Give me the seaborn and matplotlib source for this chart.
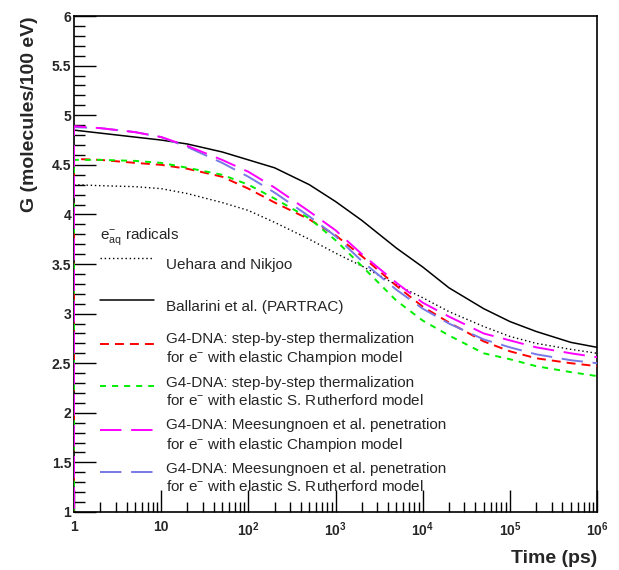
import numpy as np
import pandas as pd
import seaborn as sns
import matplotlib.pyplot as plt
from matplotlib.ticker import FixedLocator, FuncFormatter

# time grid (ps) and G values
time_ps = [1, 2, 5, 10, 20, 50, 100, 200, 500, 1e3, 2e3, 5e3,
           1e4, 2e4, 5e4, 1e5, 2e5, 5e5, 1e6]

g_uehara = [4.30, 4.29, 4.28, 4.26, 4.21, 4.12, 4.04, 3.92, 3.75, 3.61,
            3.48, 3.29, 3.16, 3.02, 2.87, 2.77, 2.70, 2.64, 2.60]
g_ballarini = [4.85, 4.82, 4.78, 4.75, 4.71, 4.63, 4.55, 4.47, 4.30, 4.13,
               3.94, 3.66, 3.47, 3.26, 3.05, 2.92, 2.82, 2.71, 2.66]
g_step_champion = [4.56, 4.55, 4.52, 4.50, 4.46, 4.38, 4.26, 4.12, 3.95, 3.79,
                   3.58, 3.28, 3.07, 2.91, 2.72, 2.62, 2.55, 2.50, 2.47]
g_step_rutherford = [4.55, 4.55, 4.54, 4.52, 4.47, 4.40, 4.30, 4.16, 3.96, 3.74,
                     3.48, 3.13, 2.93, 2.78, 2.60, 2.54, 2.47, 2.41, 2.37]
g_mees_champion = [4.89, 4.87, 4.83, 4.78, 4.69, 4.55, 4.43, 4.27, 4.03, 3.84,
                   3.60, 3.31, 3.11, 2.97, 2.80, 2.73, 2.66, 2.60, 2.56]
g_mees_rutherford = [4.88, 4.87, 4.83, 4.78, 4.68, 4.52, 4.38, 4.22, 3.98, 3.78,
                     3.53, 3.24, 3.05, 2.90, 2.74, 2.66, 2.59, 2.53, 2.50]

# G4-DNA curves start from zero at t = 1 ps
g4_start = 0.0

labels = [
    "Uehara and Nikjoo",
    "Ballarini et al. (PARTRAC)",
    "G4-DNA: step-by-step thermalization\nfor e$^{-}$ with elastic Champion model",
    "G4-DNA: step-by-step thermalization\nfor e$^{-}$ with elastic S. Rutherford model",
    "G4-DNA: Meesungnoen et al. penetration\nfor e$^{-}$ with elastic Champion model",
    "G4-DNA: Meesungnoen et al. penetration\nfor e$^{-}$ with elastic S. Rutherford model",
]

sns.set_style("white")
plt.rcParams["font.family"] = ["Liberation Sans", "DejaVu Sans"]
plt.rcParams["mathtext.fontset"] = "custom"
plt.rcParams["mathtext.rm"] = "Liberation Sans"
plt.rcParams["mathtext.default"] = "regular"

fig = plt.figure(figsize=(6.19, 5.70), dpi=100)
ax = fig.add_axes([0.1196, 0.1018, 0.845, 0.870])

# (values, colour, line style, width, starts from zero, zorder)
series = [
    (g_uehara, "black", (0, (1, 2)), 1.0, False, 2),
    (g_ballarini, "black", "-", 1.1, False, 2),
    (g_step_champion, "#ff0000", (0, (4.6, 3.1)), 1.4, True, 3),
    (g_step_rutherford, "#00ee00", (0, (3.1, 3.1)), 1.4, True, 3),
    (g_mees_champion, "#ff00ff", (0, (11, 5)), 1.4, True, 5),
    (g_mees_rutherford, "#7878e6", (0, (11, 5)), 1.4, True, 4),
]

for (g, color, ls, lw, g4, z), lab in zip(series, labels):
    t = list(time_ps)
    y = list(g)
    if g4:
        t = [time_ps[0]] + t
        y = [g4_start] + y
    df = pd.DataFrame({"t": t, "G": y})
    sns.lineplot(data=df, x="t", y="G", ax=ax, color=color, linestyle=ls,
                 linewidth=lw, estimator=None, sort=False, label=lab, zorder=z)

ax.set_xscale("log")
ax.set_xlim(1, 1e6)
ax.set_ylim(1, 6)

ax.xaxis.set_major_locator(FixedLocator([10.0 ** k for k in range(7)]))
ax.xaxis.set_minor_locator(FixedLocator([m * 10.0 ** k for k in range(6) for m in range(2, 10)]))


def fmt_time(v, pos):
    k = int(round(np.log10(v)))
    if k == 0:
        return "1"
    if k == 1:
        return "10"
    return "$10^{%d}$" % k


ax.xaxis.set_major_formatter(FuncFormatter(fmt_time))
ax.yaxis.set_major_locator(FixedLocator(np.arange(1, 6.01, 0.5)))
ax.yaxis.set_minor_locator(FixedLocator(np.arange(1, 6.01, 0.1)))
ax.yaxis.set_major_formatter(FuncFormatter(lambda v, p: "%g" % v))

ax.tick_params(which="both", direction="in", top=False, right=False,
               bottom=True, left=True, color="black", width=1.0)
ax.tick_params(axis="y", which="major", length=16, labelsize=10, pad=2)
ax.tick_params(axis="y", which="minor", length=8)
ax.tick_params(axis="x", which="major", length=16, labelsize=10, pad=6)
ax.tick_params(axis="x", which="minor", length=7)
for lab in ax.get_xticklabels() + ax.get_yticklabels():
    lab.set_fontweight("bold")

for sp in ax.spines.values():
    sp.set_color("black")
    sp.set_linewidth(1.2)

ax.set_xlabel("Time (ps)", fontsize=14, fontweight="bold", loc="right", labelpad=8)
ax.set_ylabel("G (molecules/100 eV)", fontsize=14, fontweight="bold", loc="top", labelpad=10)

leg = ax.legend(loc="upper left", bbox_to_anchor=(0.05, 0.577), frameon=False,
                title="e$^{-}_{aq}$ radicals", title_fontsize=11, fontsize=11,
                handlelength=3.5, handleheight=3.2, handletextpad=0.8,
                labelspacing=0.45, borderaxespad=0, borderpad=0)
leg._legend_box.align = "left"
leg._legend_box.sep = 0
for txt in leg.get_texts():
    txt.set_linespacing(1.3)

fig.savefig("out.png", dpi=100)
